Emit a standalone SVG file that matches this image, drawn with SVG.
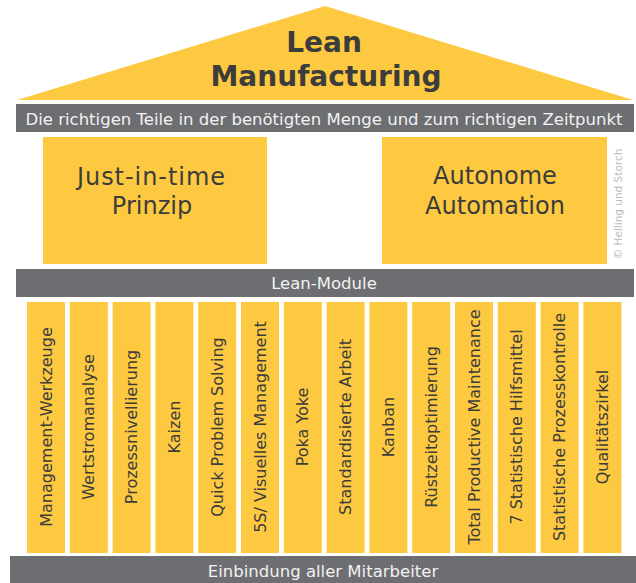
<svg xmlns="http://www.w3.org/2000/svg" width="636" height="583" viewBox="0 0 636 583">
<style>
.y{fill:#FDC940}
.g{fill:#6D6E71}
.t{font-family:'DejaVu Sans','Liberation Sans',sans-serif;fill:#3C3C3C;text-anchor:middle}
.w{font-family:'DejaVu Sans','Liberation Sans',sans-serif;fill:#F2F2F2;text-anchor:middle;font-size:16.5px}
.big{font-size:28px;font-weight:bold}
.p{font-size:24px}
.c{font-size:16px}
</style>
<rect width="636" height="583" fill="#FFFFFF"/>
<g id="roof">
<polygon class="y" points="17,100 325,6 633,100"/>
<text class="t big" x="324" y="52">Lean</text>
<text class="t big" x="326" y="86">Manufacturing</text>
</g>
<g id="bar-top">
<rect class="g" x="16" y="104" width="618" height="28"/>
<text class="w" x="324" y="125">Die richtigen Teile in der benötigten Menge und zum richtigen Zeitpunkt</text>
</g>
<g id="pillar-jit">
<rect class="y" x="43" y="137" width="224" height="127"/>
<text class="t p" x="151" y="185" textLength="148" lengthAdjust="spacing">Just-in-time</text>
<text class="t p" x="152" y="214">Prinzip</text>
</g>
<g id="pillar-auto">
<rect class="y" x="382" y="137" width="225" height="127"/>
<text class="t p" x="495" y="184">Autonome</text>
<text class="t p" x="495" y="214">Automation</text>
</g>
<text transform="translate(622,204) rotate(-90)" font-family="'DejaVu Sans',sans-serif" font-size="10.5" fill="#BBBBBB" text-anchor="middle">© Helling und Storch</text>
<g id="bar-module">
<rect class="g" x="16" y="269" width="618" height="28"/>
<text class="w" x="324" y="289">Lean-Module</text>
</g>
<g id="modules">
<g id="m1"><rect class="y" x="27" y="302" width="38" height="251"/><text class="t c" transform="translate(51.5,427) rotate(-90)">Management-Werkzeuge</text></g>
<g id="m2"><rect class="y" x="69.8" y="302" width="38" height="251"/><text class="t c" transform="translate(94.3,427) rotate(-90)">Wertstromanalyse</text></g>
<g id="m3"><rect class="y" x="112.6" y="302" width="38" height="251"/><text class="t c" transform="translate(137.1,427) rotate(-90)">Prozessnivellierung</text></g>
<g id="m4"><rect class="y" x="155.4" y="302" width="38" height="251"/><text class="t c" transform="translate(179.9,427) rotate(-90)">Kaizen</text></g>
<g id="m5"><rect class="y" x="198.2" y="302" width="38" height="251"/><text class="t c" transform="translate(222.7,427) rotate(-90)">Quick Problem Solving</text></g>
<g id="m6"><rect class="y" x="241" y="302" width="38" height="251"/><text class="t c" transform="translate(265.5,427) rotate(-90)">5S/ Visuelles Management</text></g>
<g id="m7"><rect class="y" x="283.8" y="302" width="38" height="251"/><text class="t c" transform="translate(308.3,427) rotate(-90)">Poka Yoke</text></g>
<g id="m8"><rect class="y" x="326.6" y="302" width="38" height="251"/><text class="t c" transform="translate(351.1,427) rotate(-90)">Standardisierte Arbeit</text></g>
<g id="m9"><rect class="y" x="369.4" y="302" width="38" height="251"/><text class="t c" transform="translate(393.9,427) rotate(-90)">Kanban</text></g>
<g id="m10"><rect class="y" x="412.2" y="302" width="38" height="251"/><text class="t c" transform="translate(436.7,427) rotate(-90)">Rüstzeitoptimierung</text></g>
<g id="m11"><rect class="y" x="455" y="302" width="38" height="251"/><text class="t c" transform="translate(479.5,427) rotate(-90)">Total Productive Maintenance</text></g>
<g id="m12"><rect class="y" x="497.8" y="302" width="38" height="251"/><text class="t c" transform="translate(522.3,427) rotate(-90)">7 Statistische Hilfsmittel</text></g>
<g id="m13"><rect class="y" x="540.6" y="302" width="38" height="251"/><text class="t c" transform="translate(565.1,427) rotate(-90)">Statistische Prozesskontrolle</text></g>
<g id="m14"><rect class="y" x="583.4" y="302" width="38" height="251"/><text class="t c" transform="translate(607.9,427) rotate(-90)">Qualitätszirkel</text></g>
</g>
<g id="bar-bottom">
<rect class="g" x="10" y="556" width="626" height="27"/>
<text class="w" x="323" y="577">Einbindung aller Mitarbeiter</text>
</g>
<g id="connectors"/>
</svg>
